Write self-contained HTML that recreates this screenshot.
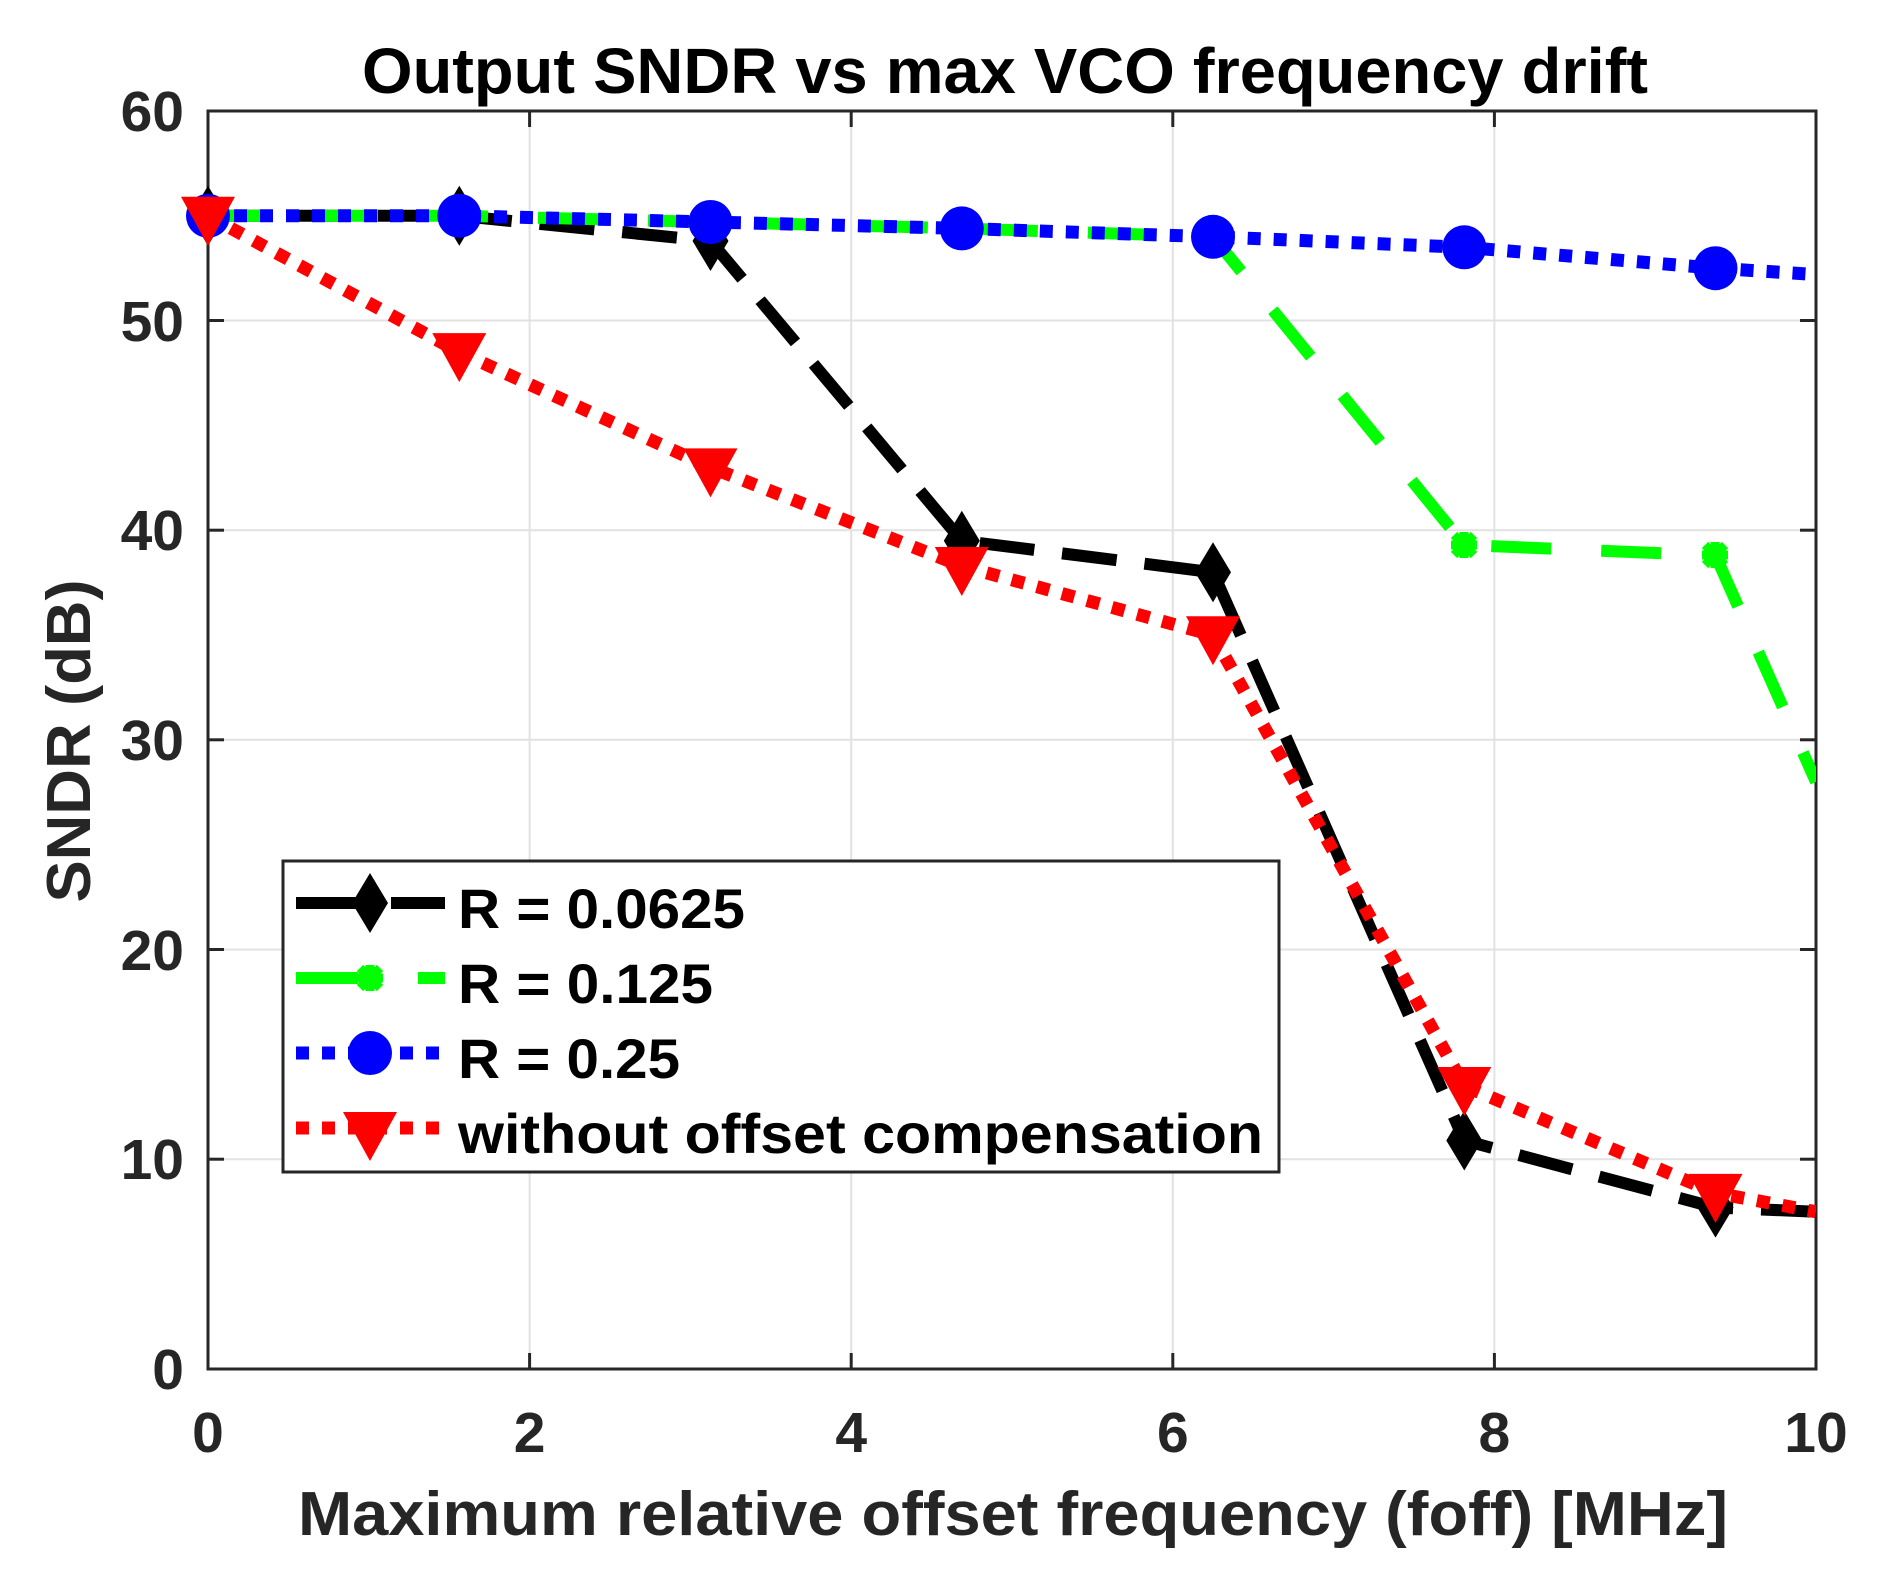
<!DOCTYPE html>
<html><head><meta charset="utf-8"><style>
html,body{margin:0;padding:0;background:#fff;}
svg{display:block;}
text{font-family:"Liberation Sans",Arial,sans-serif;font-weight:bold;}
</style></head><body>
<svg width="1879" height="1580" viewBox="0 0 1879 1580" xmlns="http://www.w3.org/2000/svg">
<defs><clipPath id="c"><rect x="208" y="111" width="1608" height="1258"/></clipPath></defs>
<rect width="1879" height="1580" fill="#fff"/>
<!-- grid -->
<g stroke="#e2e2e2" stroke-width="2">
<line x1="529.6" y1="111" x2="529.6" y2="1369"/><line x1="851.2" y1="111" x2="851.2" y2="1369"/>
<line x1="1172.8" y1="111" x2="1172.8" y2="1369"/><line x1="1494.4" y1="111" x2="1494.4" y2="1369"/>
<line x1="208" y1="320.5" x2="1816" y2="320.5"/><line x1="208" y1="530.2" x2="1816" y2="530.2"/>
<line x1="208" y1="739.8" x2="1816" y2="739.8"/><line x1="208" y1="949.5" x2="1816" y2="949.5"/>
<line x1="208" y1="1159.2" x2="1816" y2="1159.2"/>
</g>
<!-- axes -->
<rect x="208" y="111" width="1608" height="1258" fill="none" stroke="#262626" stroke-width="3"/>
<g stroke="#262626" stroke-width="3">
<line x1="529.6" y1="1369" x2="529.6" y2="1353"/><line x1="851.2" y1="1369" x2="851.2" y2="1353"/><line x1="1172.8" y1="1369" x2="1172.8" y2="1353"/><line x1="1494.4" y1="1369" x2="1494.4" y2="1353"/>
<line x1="529.6" y1="111" x2="529.6" y2="127"/><line x1="851.2" y1="111" x2="851.2" y2="127"/><line x1="1172.8" y1="111" x2="1172.8" y2="127"/><line x1="1494.4" y1="111" x2="1494.4" y2="127"/>
<line x1="208" y1="320.5" x2="224" y2="320.5"/><line x1="208" y1="530.2" x2="224" y2="530.2"/><line x1="208" y1="739.8" x2="224" y2="739.8"/><line x1="208" y1="949.5" x2="224" y2="949.5"/><line x1="208" y1="1159.2" x2="224" y2="1159.2"/>
<line x1="1816" y1="320.5" x2="1800" y2="320.5"/><line x1="1816" y1="530.2" x2="1800" y2="530.2"/><line x1="1816" y1="739.8" x2="1800" y2="739.8"/><line x1="1816" y1="949.5" x2="1800" y2="949.5"/><line x1="1816" y1="1159.2" x2="1800" y2="1159.2"/>
</g>
<!-- tick labels -->
<g fill="#262626" font-size="57">
<g text-anchor="middle">
<text x="208" y="1452">0</text><text x="529.6" y="1452">2</text><text x="851.2" y="1452">4</text>
<text x="1172.8" y="1452">6</text><text x="1494.4" y="1452">8</text><text x="1816" y="1452">10</text>
</g>
<g text-anchor="end">
<text x="184" y="131">60</text><text x="184" y="341">50</text><text x="184" y="550">40</text>
<text x="184" y="760">30</text><text x="184" y="970">20</text><text x="184" y="1179">10</text><text x="184" y="1389">0</text>
</g>
</g>
<text x="1005" y="93" font-size="64" fill="#000" text-anchor="middle" textLength="1286" lengthAdjust="spacingAndGlyphs">Output SNDR vs max VCO frequency drift</text>
<text x="1013" y="1535" font-size="62" fill="#262626" text-anchor="middle" textLength="1430" lengthAdjust="spacingAndGlyphs">Maximum relative offset frequency (foff) [MHz]</text>
<text transform="translate(90,741) rotate(-90)" font-size="62" fill="#262626" text-anchor="middle" textLength="323" lengthAdjust="spacingAndGlyphs">SNDR (dB)</text>
<!-- series -->
<g clip-path="url(#c)" fill="none">
<polyline points="208,215.8 459.3,215.8 710.5,241 961.8,540.8 1213,572.3 1464.3,1140.5 1715.5,1207.6 1816,1211.7" stroke="#000" stroke-width="12" stroke-dasharray="55,28"/>
<polyline points="208,215.8 459.3,215.8 710.5,222 961.8,228.4 1213,236.8 1464.3,545 1715.5,555.5 1816,781.9" stroke="#00ff00" stroke-width="12" stroke-dasharray="60,50"/>
<polyline points="208,215.8 459.3,215.8 710.5,222 961.8,228.4 1213,236.8 1464.3,247.3 1715.5,268.2 1816,274.5" stroke="#0000ff" stroke-width="13" stroke-dasharray="13,13"/>
<polyline points="208,215.8 459.3,352.1 710.5,467.4 961.8,566 1213,635.2 1464.3,1086 1715.5,1192.9 1816,1211.7" stroke="#ff0000" stroke-width="13" stroke-dasharray="13,13"/>
</g>
<!-- markers -->
<g fill="#000">
<path d="M208,185.8 l18,30 -18,30 -18,-30z"/><path d="M459.3,185.8 l18,30 -18,30 -18,-30z"/>
<path d="M710.5,211 l18,30 -18,30 -18,-30z"/><path d="M961.8,510.8 l18,30 -18,30 -18,-30z"/>
<path d="M1213,542.3 l18,30 -18,30 -18,-30z"/><path d="M1464.3,1110.5 l18,30 -18,30 -18,-30z"/>
<path d="M1715.5,1177.6 l18,30 -18,30 -18,-30z"/>
</g>
<g stroke="#00ff00" stroke-width="9">
<path d="M1454,535 l20,20 M1474,535 l-20,20 M1464,532 v26 M1451,545 h26"/>
<path d="M1705,545 l20,20 M1725,545 l-20,20 M1715,542 v26 M1702,555 h26"/>
</g>
<g fill="#0000ff">
<circle cx="208" cy="215.8" r="22"/><circle cx="459.3" cy="215.8" r="22"/><circle cx="710.5" cy="222" r="22"/>
<circle cx="961.8" cy="228.4" r="22"/><circle cx="1213" cy="236.8" r="22"/><circle cx="1464.3" cy="247.3" r="22"/>
<circle cx="1715.5" cy="268.2" r="22"/>
</g>
<g fill="#ff0000">
<path d="M181,196.8 h54 l-27,49z"/><path d="M432.3,333.1 h54 l-27,49z"/><path d="M683.5,448.4 h54 l-27,49z"/>
<path d="M934.8,547 h54 l-27,49z"/><path d="M1186,616.2 h54 l-27,49z"/><path d="M1437.3,1067 h54 l-27,49z"/>
<path d="M1688.5,1173.9 h54 l-27,49z"/>
</g>
<!-- legend -->
<rect x="283" y="861" width="996" height="311" fill="#fff" stroke="#262626" stroke-width="3"/>
<line x1="296" y1="903" x2="445" y2="903" stroke="#000" stroke-width="12" stroke-dasharray="75,20"/>
<path d="M370,873 l18,30 -18,30 -18,-30z" fill="#000"/>
<line x1="296" y1="978" x2="445" y2="978" stroke="#00ff00" stroke-width="12" stroke-dasharray="62,60"/>
<path d="M360,968 l20,20 M380,968 l-20,20 M370,965 v26 M357,978 h26" stroke="#00ff00" stroke-width="9"/>
<line x1="296" y1="1053" x2="445" y2="1053" stroke="#0000ff" stroke-width="13" stroke-dasharray="13,13"/>
<circle cx="370" cy="1053" r="22" fill="#0000ff"/>
<line x1="296" y1="1128" x2="445" y2="1128" stroke="#ff0000" stroke-width="13" stroke-dasharray="13,13"/>
<path d="M343,1112 h54 l-27,49z" fill="#ff0000"/>
<g font-size="56" fill="#000">
<text x="458" y="928" textLength="287" lengthAdjust="spacingAndGlyphs">R = 0.0625</text>
<text x="458" y="1003" textLength="255" lengthAdjust="spacingAndGlyphs">R = 0.125</text>
<text x="458" y="1078" textLength="222" lengthAdjust="spacingAndGlyphs">R = 0.25</text>
<text x="458" y="1153" textLength="805" lengthAdjust="spacingAndGlyphs">without offset compensation</text>
</g>
</svg>
</body></html>
